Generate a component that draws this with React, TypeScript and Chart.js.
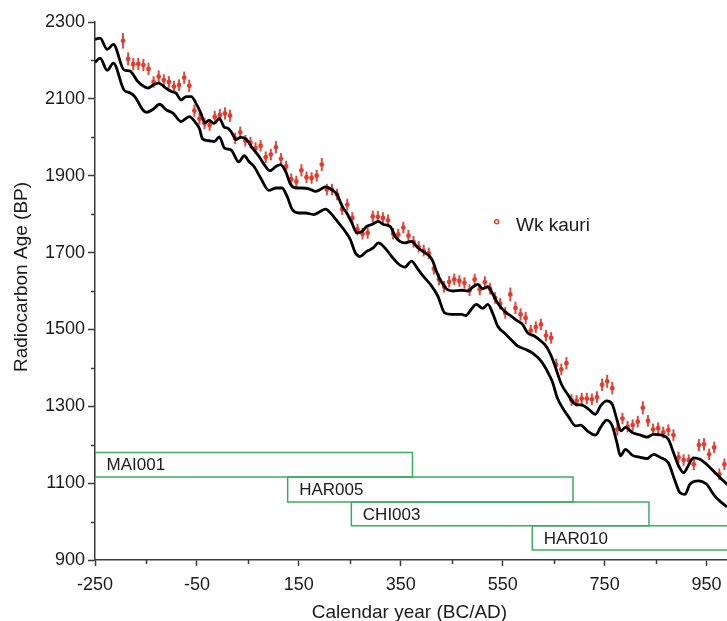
import React, { useEffect, useRef } from "react";
import { Chart, registerables } from "chart.js";

Chart.register(...registerables);

// ---- Data ----
const pointYears = [
  -195, -185, -175, -165, -155, -145, -135, -125, -115, -105, -95, -85, -75, -65, -55, -45, -35, -25, -15, -5,
  5, 15, 25, 35, 45, 55, 65, 75, 85, 95, 105, 115, 125, 135, 145, 155, 165, 175, 185, 195,
  205, 215, 225, 235, 245, 255, 265, 275, 285, 295, 305, 315, 325, 335, 345, 355, 365, 375, 385, 395,
  405, 415, 425, 435, 445, 455, 465, 475, 485, 495, 505, 515, 525, 535, 545, 555, 565, 575, 585, 595,
  605, 615, 625, 635, 645, 655, 665, 675, 685, 695, 705, 715, 725, 735, 745, 755, 765, 775, 785, 795,
  805, 815, 825, 835, 845, 855, 865, 875, 885, 895, 905, 915, 925, 935, 945, 955, 965, 975, 985,
];
const pointAges = [
  2251, 2204, 2190, 2191, 2188, 2178, 2144, 2158, 2149, 2144, 2132, 2136, 2155, 2134, 2069, 2048, 2036, 2032, 2053, 2058,
  2062, 2056, 1997, 2013, 1991, 1986, 1972, 1978, 1948, 1955, 1974, 1944, 1924, 1891, 1885, 1914, 1896, 1894, 1900, 1929,
  1864, 1864, 1851, 1813, 1825, 1790, 1760, 1749, 1751, 1794, 1793, 1790, 1784, 1749, 1747, 1765, 1744, 1728, 1715, 1705,
  1698, 1658, 1630, 1611, 1624, 1630, 1626, 1621, 1602, 1630, 1604, 1623, 1606, 1582, 1567, 1543, 1591, 1556, 1539, 1530,
  1497, 1506, 1513, 1484, 1478, 1408, 1396, 1412, 1316, 1314, 1320, 1320, 1318, 1324, 1356, 1365, 1347, 1240, 1268, 1247,
  1251, 1260, 1296, 1262, 1240, 1243, 1232, 1238, 1225, 1167, 1160, 1160, 1149, 1199, 1201, 1175, 1193, 1123, 1149,
];
const pointErrors = [
  20, 17, 16, 16, 16, 16, 15, 16, 15, 15, 15, 15, 16, 16, 16, 15, 15, 15, 16, 16,
  16, 16, 15, 15, 15, 15, 15, 15, 15, 15, 16, 15, 15, 15, 15, 16, 15, 15, 15, 17,
  15, 15, 15, 15, 15, 15, 15, 15, 15, 15, 15, 15, 15, 15, 15, 15, 15, 15, 15, 15,
  15, 15, 15, 15, 15, 15, 15, 15, 15, 15, 15, 15, 15, 15, 15, 15, 18, 16, 16, 16,
  15, 15, 15, 15, 15, 16, 15, 16, 15, 15, 15, 15, 15, 15, 16, 17, 16, 16, 15, 15,
  15, 15, 17, 15, 15, 15, 15, 15, 15, 15, 15, 15, 15, 16, 16, 15, 15, 15, 15,
];

const upperYears = [
  -250, -240, -226, -214, -193, -182, -166, -156, -146, -136, -125, -113, -100, -91, -81, -71, -61, -52, -42, -35,
  -26, -16, -6, 4, 10, 17, 27, 36, 46, 59, 72, 82, 93, 105, 114, 124, 134, 144, 156, 170,
  183, 192, 202, 212, 225, 235, 244, 254, 264, 274, 283, 293, 306, 316, 329, 339, 348, 358, 371, 384,
  397, 407, 413, 420, 427, 436, 441, 452, 469, 482, 492, 501, 511, 521, 531, 540, 553, 566, 579, 589,
  599, 612, 625, 636, 648, 656, 665, 678, 693, 706, 719, 732, 742, 754, 765, 774, 782, 791, 804, 820,
  833, 846, 862, 875, 885, 895, 905, 914, 924, 937, 950, 963, 973, 983, 992,
];
const upperAges = [
  2255, 2258, 2229, 2242, 2175, 2173, 2145, 2134, 2128, 2136, 2141, 2130, 2119, 2115, 2097, 2106, 2106, 2089, 2062, 2038,
  2044, 2036, 2049, 2026, 2024, 2015, 1994, 2000, 1996, 1972, 1950, 1929, 1913, 1924, 1929, 1911, 1877, 1868, 1868, 1866,
  1859, 1864, 1871, 1866, 1851, 1820, 1803, 1777, 1751, 1755, 1768, 1773, 1781, 1773, 1768, 1742, 1729, 1725, 1729, 1712,
  1700, 1690, 1677, 1651, 1630, 1612, 1604, 1600, 1602, 1600, 1611, 1617, 1606, 1611, 1591, 1569, 1548, 1535, 1522, 1513,
  1491, 1483, 1470, 1455, 1422, 1392, 1358, 1330, 1305, 1303, 1292, 1279, 1301, 1314, 1305, 1266, 1236, 1245, 1232, 1225,
  1220, 1227, 1225, 1214, 1180, 1145, 1127, 1145, 1166, 1162, 1149, 1132, 1119, 1106, 1095,
];

const lowerYears = [
  -250, -240, -226, -214, -193, -182, -172, -156, -149, -136, -123, -110, -97, -81, -65, -52, -45, -39, -26, -16,
  -6, 4, 17, 32, 43, 52, 62, 75, 91, 105, 117, 127, 137, 150, 163, 179, 192, 202, 212, 228,
  241, 251, 261, 270, 283, 296, 306, 319, 332, 345, 358, 371, 384, 397, 410, 423, 436, 449, 469, 478,
  488, 498, 511, 521, 530, 540, 553, 566, 579, 595, 608, 625, 638, 648, 657, 667, 680, 693, 703, 716,
  732, 742, 754, 765, 774, 781, 791, 804, 820, 833, 846, 859, 875, 888, 898, 908, 917, 934, 950, 966,
  979, 990,
];
const lowerAges = [
  2195, 2206, 2174, 2193, 2123, 2116, 2106, 2071, 2065, 2073, 2086, 2071, 2063, 2041, 2054, 2037, 2022, 1996, 1991, 1989,
  2001, 1972, 1967, 1936, 1952, 1937, 1924, 1894, 1862, 1868, 1868, 1846, 1812, 1803, 1803, 1799, 1807, 1813, 1803, 1777,
  1755, 1734, 1699, 1690, 1703, 1712, 1725, 1712, 1690, 1671, 1662, 1678, 1656, 1634, 1614, 1586, 1543, 1539, 1539, 1536,
  1552, 1565, 1555, 1565, 1543, 1509, 1491, 1474, 1457, 1448, 1439, 1418, 1390, 1362, 1322, 1297, 1271, 1249, 1251, 1236,
  1225, 1245, 1264, 1249, 1206, 1171, 1188, 1173, 1167, 1164, 1175, 1167, 1153, 1106, 1075, 1071, 1097, 1106, 1097, 1067,
  1050, 1038,
];

const boxLabels = ["MAI001", "HAR005", "CHI003", "HAR010"];
const boxStart = [-250, 128, 253, 608];
const boxEnd = [373, 688, 837, 1100];
const boxTop = [1180, 1116, 1051, 989];
const boxBottom = [1116, 1051, 989, 926];

const xTickValues = [-250, -150, -50, 50, 150, 250, 350, 450, 550, 650, 750, 850, 950, 1050];
const xTickLabels = [-250, -50, 150, 350, 550, 750, 950];
const yTickValues = [900, 1000, 1100, 1200, 1300, 1400, 1500, 1600, 1700, 1800, 1900, 2000, 2100, 2200, 2300];
const yTickLabels = [900, 1100, 1300, 1500, 1700, 1900, 2100, 2300];

const seriesName = "Wk kauri";
const xTitle = "Calendar year (BC/AD)";
const yTitle = "Radiocarbon Age (BP)";

// ---- Styles ----
const FONT = "'Liberation Sans', Arial, sans-serif";
const TEXT = "#1a1a1a";
const AXIS = "#3a3a3a";
const RED = "#e8392b";
const ERR = "rgba(222, 52, 40, 0.9)";
const GREEN = "#3aae5e";

const App: React.FC = () => {
  const ref = useRef<HTMLCanvasElement | null>(null);

  useEffect(() => {
    if (!ref.current) return;

    const boxDatasets = boxLabels.map((lab, i) => ({
      label: lab,
      data: [
        { x: boxStart[i], y: boxTop[i] },
        { x: boxEnd[i], y: boxTop[i] },
        { x: boxEnd[i], y: boxBottom[i] },
        { x: boxStart[i], y: boxBottom[i] },
        { x: boxStart[i], y: boxTop[i] },
      ],
      borderColor: GREEN,
      borderWidth: 1.5,
      pointRadius: 0,
      tension: 0,
      fill: false,
    }));

    const curve = (xs: number[], ys: number[], label: string) => ({
      label,
      data: xs.map((x, i) => ({ x, y: ys[i] })),
      borderColor: "#000000",
      borderWidth: 2.8,
      pointRadius: 0,
      tension: 0.4,
      cubicInterpolationMode: "monotone" as const,
      fill: false,
    });

    const pointsIndex = boxDatasets.length + 2;

    const decor = {
      id: "decor",
      beforeDatasetDraw(chart: any, args: any) {
        if (args.index !== pointsIndex) return;
        const { ctx, scales } = chart;
        const xs = scales.x;
        const ys = scales.y;
        ctx.save();
        ctx.strokeStyle = ERR;
        ctx.lineWidth = 2;
        pointYears.forEach((yr, i) => {
          const px = xs.getPixelForValue(yr);
          ctx.beginPath();
          ctx.moveTo(px, ys.getPixelForValue(pointAges[i] - pointErrors[i]));
          ctx.lineTo(px, ys.getPixelForValue(pointAges[i] + pointErrors[i]));
          ctx.stroke();
        });
        ctx.restore();
      },
      afterDraw(chart: any) {
        const { ctx, scales, chartArea } = chart;
        const xs = scales.x;
        const ys = scales.y;
        ctx.save();
        // minor ticks
        ctx.strokeStyle = AXIS;
        ctx.lineWidth = 1.5;
        xTickValues.forEach((v) => {
          if (xTickLabels.includes(v)) return;
          const px = Math.round(xs.getPixelForValue(v)) + 0.5;
          ctx.beginPath();
          ctx.moveTo(px, chartArea.bottom);
          ctx.lineTo(px, chartArea.bottom + 4);
          ctx.stroke();
        });
        yTickValues.forEach((v) => {
          if (yTickLabels.includes(v)) return;
          const py = Math.round(ys.getPixelForValue(v)) + 0.5;
          ctx.beginPath();
          ctx.moveTo(chartArea.left - 4, py);
          ctx.lineTo(chartArea.left, py);
          ctx.stroke();
        });
        // box labels
        ctx.fillStyle = TEXT;
        ctx.font = `17px ${FONT}`;
        ctx.textAlign = "left";
        ctx.textBaseline = "middle";
        boxLabels.forEach((lab, i) => {
          const px = xs.getPixelForValue(boxStart[i]) + 11.5;
          const py = (ys.getPixelForValue(boxTop[i]) + ys.getPixelForValue(boxBottom[i])) / 2 + 1;
          ctx.fillText(lab, px, py);
        });
        // legend
        ctx.beginPath();
        ctx.arc(496.7, 221.7, 2, 0, Math.PI * 2);
        ctx.strokeStyle = RED;
        ctx.lineWidth = 1.4;
        ctx.stroke();
        ctx.fillStyle = TEXT;
        ctx.font = `19px ${FONT}`;
        ctx.textBaseline = "alphabetic";
        ctx.fillText(seriesName, 516, 231);
        // axis titles
        ctx.font = `19px ${FONT}`;
        ctx.textAlign = "center";
        ctx.fillText(xTitle, 409.5, 617.5);
        ctx.save();
        ctx.translate(27, 277);
        ctx.rotate(-Math.PI / 2);
        ctx.fillText(yTitle, 0, 0);
        ctx.restore();
        ctx.restore();
      },
    };

    const chart = new Chart(ref.current, {
      type: "line",
      data: {
        datasets: [
          ...boxDatasets,
          curve(upperYears, upperAges, "upper"),
          curve(lowerYears, lowerAges, "lower"),
          {
            label: seriesName,
            data: pointYears.map((x, i) => ({ x, y: pointAges[i] })),
            showLine: false,
            pointRadius: 2.4,
            pointBackgroundColor: RED,
            pointBorderWidth: 0,
            pointBorderColor: RED,
          },
        ] as any,
      },
      options: {
        responsive: false,
        animation: false,
        devicePixelRatio: 1,
        layout: { padding: { top: 22, right: 0, left: 0, bottom: 0 } },
        plugins: {
          legend: { display: false },
          tooltip: { enabled: false },
        },
        scales: {
          x: {
            type: "linear",
            min: -250,
            max: 1100,
            afterBuildTicks: (axis: any) => {
              axis.ticks = xTickValues.map((v) => ({ value: v }));
            },
            afterFit: (axis: any) => {
              axis.height = 61;
            },
            ticks: {
              includeBounds: false,
              autoSkip: false,
              maxRotation: 0,
              padding: 8,
              color: TEXT,
              font: { family: FONT, size: 18 },
              callback: (v: any) => (xTickLabels.includes(Number(v)) ? String(v) : ""),
            },
            grid: {
              drawOnChartArea: false,
              drawTicks: true,
              tickLength: 6,
              tickWidth: 1.5,
              tickColor: (c: any) => (xTickLabels.includes(c.tick?.value) ? AXIS : "rgba(0,0,0,0)"),
            },
            border: { display: true, color: AXIS, width: 1.5 },
          },
          y: {
            type: "linear",
            min: 900,
            max: 2300,
            afterBuildTicks: (axis: any) => {
              axis.ticks = yTickValues.map((v) => ({ value: v }));
            },
            afterFit: (axis: any) => {
              axis.width = 95;
            },
            ticks: {
              autoSkip: false,
              padding: 3,
              color: TEXT,
              font: { family: FONT, size: 18 },
              callback: (v: any) => (yTickLabels.includes(Number(v)) ? String(v) : ""),
            },
            grid: {
              drawOnChartArea: false,
              drawTicks: true,
              tickLength: 7,
              tickWidth: 1.5,
              tickColor: (c: any) => (yTickLabels.includes(c.tick?.value) ? AXIS : "rgba(0,0,0,0)"),
            },
            border: { display: true, color: AXIS, width: 1.5 },
          },
        },
      } as any,
      plugins: [decor],
    });

    return () => chart.destroy();
  }, []);

  return (
    <div
      style={{
        position: "fixed",
        left: 0,
        top: 0,
        width: 727,
        height: 621,
        overflow: "hidden",
        background: "#ffffff",
      }}
    >
      <canvas ref={ref} width={787} height={621} style={{ display: "block" }} />
    </div>
  );
};

export default App;
